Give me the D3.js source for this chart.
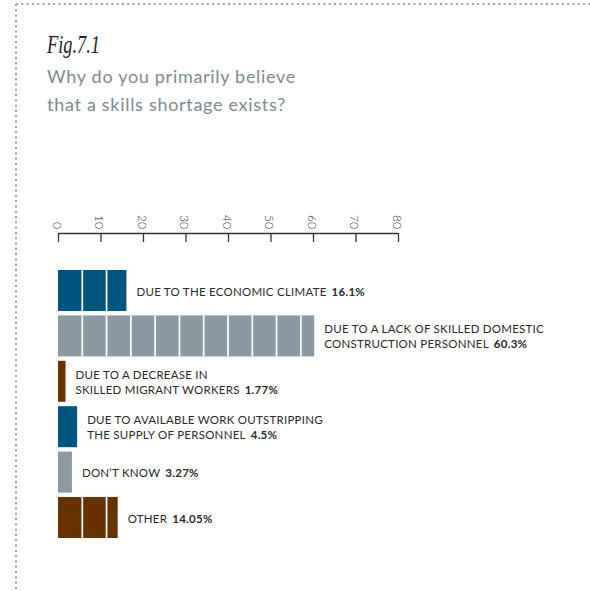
<!DOCTYPE html>
<html>
<head>
<meta charset="utf-8">
<script src="https://cdn.jsdelivr.net/npm/d3@7"></script>
<style>
  body { margin: 0; background: #fff; }
  svg { display: block; }
</style>
</head>
<body>
<div id="chart"></div>
<script>
// chart values
var categories = ["economic", "domestic", "migrant", "outstripping", "dontknow", "other"];
var labelLines = [
    ["DUE TO THE ECONOMIC CLIMATE"],
    ["DUE TO A LACK OF SKILLED DOMESTIC", "CONSTRUCTION PERSONNEL"],
    ["DUE TO A DECREASE IN", "SKILLED MIGRANT WORKERS"],
    ["DUE TO AVAILABLE WORK OUTSTRIPPING", "THE SUPPLY OF PERSONNEL"],
    ["DON\u2019T KNOW"],
    ["OTHER"]
];
var values = [16.1, 60.3, 1.77, 4.5, 3.27, 14.05];
var valueLabels = ["16.1%", "60.3%", "1.77%", "4.5%", "3.27%", "14.05%"];
var tickValues = [0, 10, 20, 30, 40, 50, 60, 70, 80];

var palette = ["#00557f", "#8b9aa2", "#663300"];

var width = 590, height = 591;
var blockUnit = 80 / 14; // bars are built out of equal blocks

var svg = d3.select("#chart").append("svg")
    .attr("width", width)
    .attr("height", height);

// dotted frame, top and left
svg.append("line")
    .attr("x1", 16).attr("y1", 4).attr("x2", width).attr("y2", 4)
    .attr("stroke", "#95a3ab").attr("stroke-width", 2)
    .attr("stroke-dasharray", "2 3.3");
svg.append("line")
    .attr("x1", 16).attr("y1", 4).attr("x2", 16).attr("y2", height)
    .attr("stroke", "#95a3ab").attr("stroke-width", 2)
    .attr("stroke-dasharray", "2 3.3");

// titles
svg.append("text")
    .attr("x", 47).attr("y", 53)
    .attr("font-family", "Liberation Serif, serif")
    .attr("font-style", "italic")
    .attr("font-size", 25)
    .attr("fill", "#222")
    .attr("textLength", 53)
    .attr("lengthAdjust", "spacingAndGlyphs")
    .text("Fig.7.1");

var subtitle = ["Why do you primarily believe", "that a skills shortage exists?"];
svg.selectAll("text.sub")
    .data(subtitle)
    .enter().append("text")
    .attr("class", "sub")
    .attr("x", 47)
    .attr("y", function (d, i) { return 83 + i * 27.5; })
    .attr("font-family", "Lato, sans-serif")
    .attr("font-size", 18)
    .attr("letter-spacing", 0.7)
    .attr("fill", "#7d8a92")
    .text(function (d) { return d; });

var x = d3.scaleLinear()
    .domain([0, 80])
    .range([58, 398]);

var y = d3.scaleBand()
    .domain(categories)
    .range([270, 538])
    .paddingInner(4.4 / 45.4)
    .paddingOuter(0);

// axis on top, ticks pointing down, labels turned
var axis = d3.axisTop(x)
    .tickValues(tickValues)
    .tickSizeInner(-9)
    .tickSizeOuter(0)
    .tickFormat(d3.format("d"));

var axisG = svg.append("g")
    .attr("transform", "translate(0,233)")
    .call(axis);

axisG.select(".domain").attr("stroke", "#333").attr("stroke-width", 1.3);
axisG.selectAll(".tick line").attr("stroke", "#333").attr("stroke-width", 1.3);
axisG.selectAll(".tick text")
    .attr("transform", "rotate(90)")
    .attr("x", -4)
    .attr("y", 0)
    .attr("dy", "0.5em")
    .attr("text-anchor", "end")
    .attr("font-family", "Lato, sans-serif")
    .attr("font-weight", 300)
    .attr("font-size", 12)
    .attr("fill", "#333");

// bars
var bars = svg.selectAll("g.bar")
    .data(categories)
    .enter().append("g")
    .attr("class", "bar");

bars.append("rect")
    .attr("x", x(0))
    .attr("y", function (d) { return y(d); })
    .attr("width", function (d, i) { return x(values[i]) - x(0); })
    .attr("height", y.bandwidth())
    .attr("fill", function (d, i) { return palette[i % 3]; });

// white block dividers
bars.each(function (d, i) {
    var cuts = d3.range(blockUnit, values[i], blockUnit);
    d3.select(this).selectAll("line")
        .data(cuts)
        .enter().append("line")
        .attr("x1", function (c) { return x(c); })
        .attr("x2", function (c) { return x(c); })
        .attr("y1", y(d))
        .attr("y2", y(d) + y.bandwidth())
        .attr("stroke", "#fff")
        .attr("stroke-width", 1.7);
});

// labels
bars.each(function (d, i) {
    var lines = labelLines[i];
    var mid = y(d) + y.bandwidth() / 2;
    var first = lines.length == 1 ? mid + 5 : mid - 2.5;
    var t = d3.select(this).append("text")
        .attr("font-family", "Lato, sans-serif")
        .attr("font-size", 11.5)
        .attr("letter-spacing", 0.25)
        .attr("fill", "#2a2a2a");
    lines.forEach(function (ln, j) {
        var span = t.append("tspan")
            .attr("x", x(values[i]) + 10)
            .attr("y", first + j * 15)
            .text(ln);
        if (j == lines.length - 1) {
            t.append("tspan")
                .attr("dx", 5)
                .attr("font-weight", "bold")
                .text(valueLabels[i]);
        }
    });
});
</script>
</body>
</html>
